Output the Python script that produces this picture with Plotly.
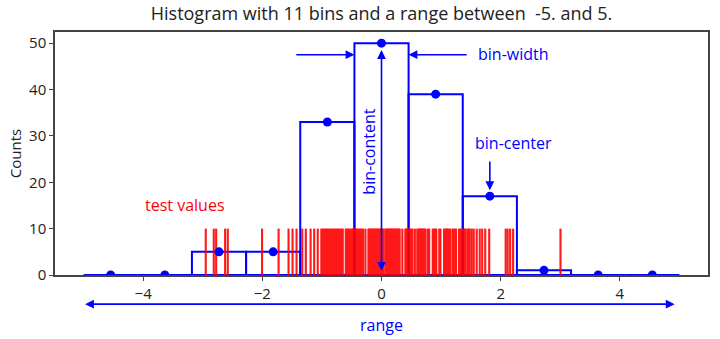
import numpy as np
import plotly.graph_objects as go

# Histogram definition
n_bins = 11
x_min, x_max = -5.0, 5.0
counts = [0, 0, 5, 5, 33, 50, 39, 17, 1, 0, 0]

# Individual test values drawn as a rug (one short line each)
test_values = [
    -2.95, -2.815, -2.775, -2.625, -2.58,
    -2.005, -1.727, -1.56, -1.493, -1.426,
    -1.33, -1.27, -1.19, -1.13, -1.07,
    -1.01, -0.99, -0.97, -0.95, -0.93, -0.91, -0.89, -0.87, -0.85, -0.83,
    -0.81, -0.79, -0.77, -0.75, -0.73, -0.71, -0.69, -0.67, -0.65,
    -0.60, -0.58, -0.56, -0.54, -0.52, -0.50, -0.48, -0.47, -0.46,
    -0.45, -0.44, -0.43, -0.41, -0.39, -0.37, -0.35, -0.33, -0.31, -0.27,
    -0.22, -0.205, -0.19, -0.175, -0.16, -0.145, -0.13, -0.115, -0.10,
    -0.085, -0.07, -0.055, -0.04, -0.025, -0.01, 0.005, 0.02, 0.035,
    0.065, 0.08, 0.095, 0.11, 0.125, 0.14, 0.155, 0.17, 0.185, 0.20,
    0.215, 0.23, 0.245, 0.26, 0.275, 0.29, 0.305, 0.35, 0.40, 0.415,
    0.43, 0.445,
    0.46, 0.47, 0.48, 0.50, 0.52, 0.56, 0.60, 0.62, 0.64, 0.65, 0.66,
    0.68, 0.70, 0.71, 0.72, 0.74, 0.78, 0.80, 0.86, 0.88, 0.90, 0.92,
    0.97, 0.99, 1.05, 1.07, 1.09, 1.10, 1.11, 1.13, 1.15, 1.19, 1.21,
    1.23, 1.25, 1.30, 1.32, 1.34, 1.36,
    1.381, 1.397, 1.414, 1.448, 1.464, 1.481, 1.515, 1.548, 1.598, 1.649,
    1.690, 1.741, 1.808, 2.084, 2.117, 2.159, 2.209,
    3.004,
]
rug_height = 10

x_tick_vals = [-4, -2, 0, 2, 4]
x_tick_text = ["\u22124", "\u22122", "0", "2", "4"]
y_tick_vals = [0, 10, 20, 30, 40, 50]

edges = np.linspace(x_min, x_max, n_bins + 1)
centers = 0.5 * (edges[:-1] + edges[1:])

BLUE = "#0000ff"
RED = "#ff0000"
TEXT = "#222222"
FONT = "'Open Sans', Lato, sans-serif"

fig = go.Figure()

# Bar outlines (unfilled rectangles, one per bin)
bx, by = [], []
for left, right, c in zip(edges[:-1], edges[1:], counts):
    bx += [left, left, right, right, left, None]
    by += [0, c, c, 0, 0, None]
fig.add_trace(go.Scatter(x=bx, y=by, mode="lines",
                         line=dict(color=BLUE, width=2), hoverinfo="skip"))

# Rug of test values
rx, ry = [], []
for v in test_values:
    rx += [v, v, None]
    ry += [0, rug_height, None]
fig.add_trace(go.Scatter(x=rx, y=ry, mode="lines", opacity=0.9,
                         line=dict(color=RED, width=2.1), hoverinfo="skip"))

# Bin centres
fig.add_trace(go.Scatter(x=centers, y=counts, mode="markers",
                         marker=dict(color=BLUE, size=9), hoverinfo="skip"))

ann = []


def arrow(x, y, ax, ay, both=False, yref="y"):
    ann.append(dict(x=x, y=y, ax=ax, ay=ay, xref="x", yref=yref,
                    axref="x", ayref=yref, text="", showarrow=True,
                    arrowhead=2, arrowsize=1.1, arrowwidth=1.6,
                    arrowcolor=BLUE,
                    arrowside="end+start" if both else "end"))


def label(x, y, text, color=BLUE, size=16, yref="y", **kw):
    ann.append(dict(x=x, y=y, xref="x", yref=yref, text=text,
                    showarrow=False,
                    font=dict(color=color, size=size, family=FONT), **kw))


top = max(counts)
i_max = int(np.argmax(counts))
left_edge, right_edge = edges[i_max], edges[i_max + 1]

# bin-width arrows
arrow(left_edge, 47.5, left_edge - 1.0, 47.5)
arrow(right_edge, 47.5, right_edge + 1.0, 47.5)
label(right_edge + 1.13, 47.7, "bin-width", xanchor="left")

# bin-content arrow
arrow(centers[i_max], top - 1.5, centers[i_max], 0.6, both=True)
label(centers[i_max] - 0.21, 26.6, "bin-content", textangle=-90)

# bin-center arrow
arrow(centers[7], counts[7] + 1.3, centers[7], 24.8)
label(centers[7] + 0.4, 28.4, "bin-center")

# test values label
label(-3.3, 15.2, "test values", color=RED)

# range arrow below the axis
arrow(x_max - 0.08, -0.12, x_min, -0.12, both=True, yref="y domain")
label(0, -0.26, "range", yref="y domain")

axis_common = dict(showline=True, mirror=True, linecolor="#444", linewidth=1.5,
                   ticks="outside", ticklen=4, tickcolor="#444",
                   showgrid=False, zeroline=False,
                   tickfont=dict(size=15, family=FONT, color=TEXT))

fig.update_layout(
    width=720, height=339,
    margin=dict(l=55, r=10, t=32, b=64),
    plot_bgcolor="white", paper_bgcolor="white",
    showlegend=False,
    title=dict(text="Histogram with 11 bins and a range between  -5. and 5.",
               x=0.5, xref="paper", xanchor="center",
               y=1 - 14 / 339, yref="container", yanchor="middle",
               font=dict(size=18, family=FONT, color=TEXT)),
    xaxis=dict(range=[-5.48, 5.48], tickvals=x_tick_vals, ticktext=x_tick_text,
               **axis_common),
    yaxis=dict(range=[0, 52.4], tickvals=y_tick_vals,
               title=dict(text="Counts", font=dict(size=15, family=FONT, color=TEXT),
                          standoff=4),
               **axis_common),
    annotations=ann,
)

fig.write_html("out.html")
